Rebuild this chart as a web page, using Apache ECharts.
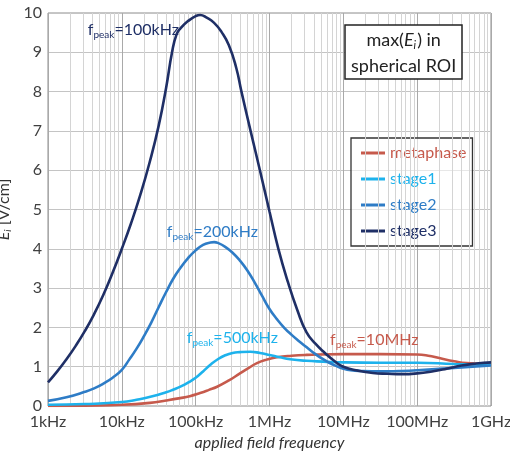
<!DOCTYPE html>
<html>
<head>
<meta charset="utf-8">
<script src="https://cdn.jsdelivr.net/npm/echarts@6/dist/echarts.min.js"></script>
<style>
  html, body { margin: 0; padding: 0; background: #fff; }
  #chart { width: 510px; height: 453px; }
</style>
</head>
<body>
<div id="chart"></div>
<script>
// x positions are decades: 10^x Hz
const tickLabels = { 3: '1kHz', 4: '10kHz', 5: '100kHz', 6: '1MHz', 7: '10MHz', 8: '100MHz', 9: '1GHz' };

const metaX = [3.0, 3.5, 4.0, 4.38, 4.6, 4.79, 4.92, 5.06, 5.18, 5.29, 5.45, 5.6, 5.72, 5.83, 5.96, 6.1, 6.3, 6.5, 7.0, 7.5, 8.0, 8.15, 8.3, 8.5, 8.67, 9.0];
const metaY = [0.0, 0.01, 0.03, 0.08, 0.14, 0.2, 0.25, 0.33, 0.41, 0.49, 0.65, 0.83, 0.97, 1.09, 1.18, 1.24, 1.28, 1.3, 1.32, 1.32, 1.31, 1.28, 1.22, 1.14, 1.09, 1.06];

const stage1X = [3.0, 3.5, 4.0, 4.2, 4.4, 4.6, 4.7, 4.8, 4.9, 5.0, 5.1, 5.2, 5.3, 5.4, 5.5, 5.6, 5.74, 5.87, 6.0, 6.14, 6.28, 6.5, 6.73, 7.0, 7.5, 8.0, 8.5, 9.0];
const stage1Y = [0.03, 0.05, 0.1, 0.16, 0.24, 0.35, 0.42, 0.5, 0.6, 0.72, 0.88, 1.05, 1.19, 1.29, 1.35, 1.37, 1.38, 1.35, 1.3, 1.24, 1.19, 1.15, 1.13, 1.11, 1.1, 1.1, 1.07, 1.05];

const stage2X = [3.0, 3.25, 3.5, 3.625, 3.75, 3.875, 4.0, 4.1, 4.2, 4.3, 4.4, 4.5, 4.6, 4.7, 4.8, 4.9, 5.0, 5.1, 5.2, 5.25, 5.3, 5.4, 5.5, 5.6, 5.7, 5.8, 5.9, 6.0, 6.1, 6.2, 6.3, 6.4, 6.5, 6.6, 6.7, 6.8, 6.9, 7.0, 7.1, 7.25, 7.5, 7.75, 8.0, 8.5, 9.0];
const stage2Y = [0.13, 0.22, 0.36, 0.45, 0.57, 0.72, 0.92, 1.18, 1.46, 1.78, 2.13, 2.52, 2.9, 3.25, 3.53, 3.77, 3.96, 4.1, 4.16, 4.17, 4.15, 4.05, 3.9, 3.7, 3.45, 3.14, 2.8, 2.47, 2.21, 1.99, 1.81, 1.65, 1.5, 1.35, 1.22, 1.11, 1.02, 0.95, 0.91, 0.89, 0.88, 0.89, 0.91, 0.97, 1.03];

const stage3X = [3.0, 3.125, 3.25, 3.375, 3.5, 3.625, 3.75, 3.875, 4.0, 4.125, 4.25, 4.375, 4.5, 4.6, 4.68, 4.74, 4.8, 4.9, 5.0, 5.06, 5.15, 5.25, 5.35, 5.45, 5.55, 5.62, 5.75, 5.87, 6.0, 6.12, 6.25, 6.375, 6.5, 6.625, 6.75, 6.875, 7.0, 7.2, 7.4, 7.6, 7.8, 8.0, 8.2, 8.4, 8.6, 8.8, 9.0];
const stage3Y = [0.6, 0.88, 1.19, 1.53, 1.91, 2.34, 2.83, 3.39, 4.0, 4.65, 5.37, 6.19, 7.14, 8.1, 9.0, 9.45, 9.62, 9.8, 9.92, 9.95, 9.88, 9.75, 9.52, 9.18, 8.6, 8.0, 6.95, 6.0, 4.95, 4.0, 3.15, 2.45, 1.88, 1.58, 1.35, 1.15, 1.0, 0.9, 0.84, 0.82, 0.81, 0.83, 0.88, 0.95, 1.03, 1.08, 1.11];

// annotation text: [label, x (decade), y]
const notes = [
  ['100kHz', 3.54, 9.57, '#1f2f66'],
  ['200kHz', 4.61, 4.43, '#2e7cc6'],
  ['500kHz', 4.88, 1.73, '#1db2ec'],
  ['10MHz', 6.82, 1.68, '#c65a4c']
];

const colors = {
  metaphase: '#c65a4c',
  stage1: '#1db2ec',
  stage2: '#2e7cc6',
  stage3: '#1f2f66'
};

const toPairs = (xs, ys) => xs.map((x, i) => [Math.pow(10, x), ys[i]]);

// minor vertical grid lines 2..9 per decade
const minorLines = [];
for (let d = 3; d < 9; d++) {
  for (let k = 2; k <= 9; k++) minorLines.push({ xAxis: k * Math.pow(10, d) });
}

const font = 'Lato, "Open Sans", sans-serif';
const chart = echarts.init(document.getElementById('chart'));

const lineSeries = (name, xs, ys) => ({
  name: name,
  type: 'line',
  smooth: 0.5,
  showSymbol: false,
  data: toPairs(xs, ys),
  lineStyle: { width: 2.6, color: colors[name] },
  itemStyle: { color: colors[name] },
  z: 5
});

const option = {
  animation: false,
  textStyle: { fontFamily: font },
  grid: {
    left: 48, right: 19, top: 13, bottom: 47,
    outerBoundsMode: 'none',
    containLabel: false,
    show: true, borderColor: '#8c8c8c', borderWidth: 1
  },
  title: {
    text: '{a|max(}{e|E}{s|i}{a|) in}\n{a|spherical ROI}',
    left: 345,
    top: 22,
    padding: [5, 6, 4, 6],
    borderColor: '#222',
    borderWidth: 1.5,
    backgroundColor: '#fff',
    textStyle: {
      fontWeight: 'normal',
      rich: {
        a: { fontSize: 18, color: '#222', fontWeight: 'normal', fontFamily: font, lineHeight: 26, align: 'center' },
        e: { fontSize: 18, color: '#222', fontWeight: 'normal', fontFamily: font, fontStyle: 'italic', lineHeight: 26 },
        s: { fontSize: 11, color: '#222', fontWeight: 'normal', fontFamily: font, fontStyle: 'italic', padding: [10, 1, 0, 0], lineHeight: 26 }
      }
    }
  },
  legend: {
    orient: 'vertical',
    left: 351,
    top: 138,
    padding: [7, 6, 7, 10],
    itemGap: 10,
    itemWidth: 24,
    itemHeight: 3,
    icon: 'rect',
    borderColor: '#333',
    borderWidth: 1.3,
    backgroundColor: 'rgba(255,255,255,0.6)',
    textStyle: { fontSize: 16, fontFamily: font },
    data: ['metaphase', 'stage1', 'stage2', 'stage3'].map(n => ({ name: n, textStyle: { color: colors[n] } }))
  },
  xAxis: {
    type: 'log',
    logBase: 10,
    min: 1e3,
    max: 1e9,
    name: 'applied field frequency',
    nameLocation: 'middle',
    nameGap: 28,
    nameTextStyle: { fontSize: 16, fontStyle: 'italic', color: '#333', fontFamily: font },
    axisLine: { show: false },
    axisTick: { show: false },
    axisLabel: {
      fontSize: 16,
      color: '#404040',
      margin: 8,
      formatter: v => tickLabels[Math.round(Math.log10(v))] || ''
    },
    splitLine: { show: true, lineStyle: { color: '#a9a9a9', width: 1 } }
  },
  yAxis: {
    type: 'value',
    min: 0,
    max: 10,
    interval: 1,
    name: '{e|E}{s|i}{n| [V/cm]}',
    nameLocation: 'middle',
    nameGap: 22,
    nameTextStyle: {
      rich: {
        e: { fontSize: 16, fontStyle: 'italic', color: '#333', fontFamily: font, lineHeight: 20 },
        s: { fontSize: 10, fontStyle: 'italic', color: '#333', fontFamily: font, padding: [8, 0, 0, 0], lineHeight: 20 },
        n: { fontSize: 16, color: '#333', fontFamily: font, lineHeight: 20 }
      }
    },
    axisLine: { show: false },
    axisTick: { show: false },
    axisLabel: { fontSize: 16, color: '#404040', margin: 6 },
    splitLine: { show: true, lineStyle: { color: '#c4c4c4', width: 1 } }
  },
  series: [
    {
      name: 'grid-minor',
      type: 'line',
      data: [],
      silent: true,
      markLine: {
        silent: true,
        symbol: 'none',
        label: { show: false },
        lineStyle: { color: '#d4d4d4', width: 1, type: 'solid' },
        data: minorLines
      },
      z: 1
    },
    lineSeries('metaphase', metaX, metaY),
    lineSeries('stage1', stage1X, stage1Y),
    lineSeries('stage2', stage2X, stage2Y),
    lineSeries('stage3', stage3X, stage3Y)
  ]
};

chart.setOption(option);

// peak annotations placed through the axes
const graphics = notes.map(([txt, x, y, c]) => {
  const p = chart.convertToPixel({ xAxisIndex: 0, yAxisIndex: 0 }, [Math.pow(10, x), y]);
  return {
    type: 'text',
    x: p[0],
    y: p[1],
    z: 10,
    style: {
      text: '{f|f}{s|peak}{f|=' + txt + '}',
      verticalAlign: 'middle',
      rich: {
        f: { fontSize: 16, fill: c, fontFamily: font, lineHeight: 20 },
        s: { fontSize: 10, fill: c, fontFamily: font, padding: [10, 0, 0, 0], lineHeight: 20 }
      }
    }
  };
});
chart.setOption({ graphic: graphics });
</script>
</body>
</html>
